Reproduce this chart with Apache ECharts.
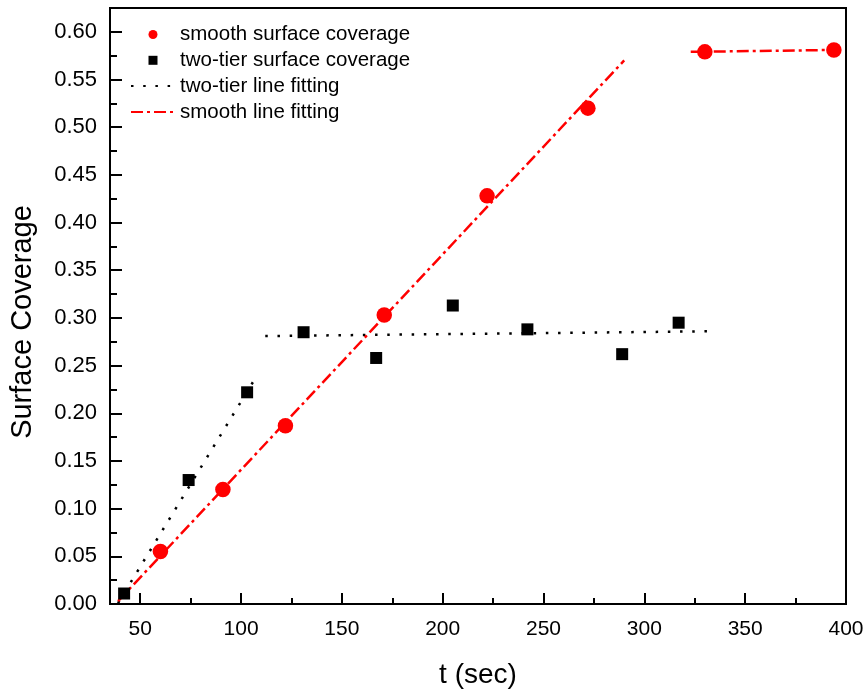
<!DOCTYPE html>
<html>
<head>
<meta charset="utf-8">
<script src="https://cdn.jsdelivr.net/npm/echarts@6/dist/echarts.min.js"></script>
<style>
  html, body { margin: 0; padding: 0; background: #fff; }
  #chart { width: 868px; height: 690px; }
</style>
</head>
<body>
<div id="chart"></div>
<script>
// Measured coverage: smooth surface
const tSmooth   = [60, 91, 122, 171, 222, 272, 330, 394];
const covSmooth = [0.055, 0.120, 0.187, 0.303, 0.428, 0.520, 0.579, 0.581];

// Measured coverage: two-tier surface
const tTwoTier   = [42, 74, 103, 131, 167, 205, 242, 289, 317];
const covTwoTier = [0.011, 0.130, 0.222, 0.285, 0.258, 0.313, 0.288, 0.262, 0.295];

// Linear fits (segment end points)
const smoothFitT1 = [39, 290];
const smoothFitC1 = [0.003, 0.570];
const smoothFitT2 = [323, 394];
const smoothFitC2 = [0.579, 0.581];
const twoFitT1 = [39, 108];
const twoFitC1 = [0.001, 0.240];
const twoFitT2 = [112, 334];
const twoFitC2 = [0.281, 0.286];

// Axis ticks
const xMajor = [50, 100, 150, 200, 250, 300, 350, 400];
const xMinor = [75, 125, 175, 225, 275, 325, 375];
const yMajor = [0, 0.05, 0.10, 0.15, 0.20, 0.25, 0.30, 0.35, 0.40, 0.45, 0.50, 0.55, 0.60];
const yMinor = [0.025, 0.075, 0.125, 0.175, 0.225, 0.275, 0.325, 0.375, 0.425, 0.475, 0.525, 0.575];

const legendNames = ['smooth surface coverage', 'two-tier surface coverage', 'two-tier line fitting', 'smooth line fitting'];

const pairs = (xs, ys) => xs.map((x, i) => [x, ys[i]]);

const FONT = 'Liberation Sans, Arial, sans-serif';
const RED = '#ff0000';
const DASHDOT = [12, 4, 3, 4];
const DOTTED = [2.5, 9.7];

const chart = echarts.init(document.getElementById('chart'), null, { renderer: 'canvas' });

const baseX = { type: 'value', min: 35, max: 400 };
const baseY = { type: 'value', min: 0, max: 0.625 };

chart.setOption({
  animation: false,
  backgroundColor: '#fff',
  textStyle: { fontFamily: FONT },
  grid: {
    left: 110, top: 8, right: 22, bottom: 86,
    outerBoundsMode: 'none', containLabel: false,
    show: true, borderColor: '#000', borderWidth: 2, backgroundColor: 'transparent'
  },
  legend: {
    orient: 'vertical',
    left: 125, top: 19,
    itemWidth: 44, itemHeight: 9, itemGap: 4.8,
    symbolKeepAspect: true,
    textStyle: { fontFamily: FONT, fontSize: 20.5, color: '#000', lineHeight: 20 },
    data: [
      { name: legendNames[0], icon: 'circle' },
      { name: legendNames[1], icon: 'path://M0,0L10,0L10,10L0,10Z' },
      { name: legendNames[2], itemStyle: { opacity: 0 } },
      { name: legendNames[3], itemStyle: { opacity: 0 } }
    ]
  },
  xAxis: [
    Object.assign({}, baseX, {
      name: 't (sec)', nameLocation: 'middle', nameGap: 57,
      nameTextStyle: { fontFamily: FONT, fontSize: 28, color: '#000' },
      axisLine: { show: true, lineStyle: { color: '#000', width: 2 } },
      axisTick: { show: true, inside: true, length: 11, customValues: xMajor, lineStyle: { color: '#000', width: 2 } },
      axisLabel: { show: true, customValues: xMajor, margin: 15, fontFamily: FONT, fontSize: 21, color: '#000' },
      splitLine: { show: false }
    }),
    Object.assign({}, baseX, {
      position: 'bottom',
      axisLine: { show: false },
      axisTick: { show: true, inside: true, length: 6, customValues: xMinor, lineStyle: { color: '#000', width: 2 } },
      axisLabel: { show: false, customValues: xMinor },
      splitLine: { show: false }
    })
  ],
  yAxis: [
    Object.assign({}, baseY, {
      name: 'Surface Coverage', nameLocation: 'middle', nameGap: 73, nameRotate: 90,
      nameTextStyle: { fontFamily: FONT, fontSize: 29, color: '#000', padding: [0, 32, 0, 0] },
      axisLine: { show: true, lineStyle: { color: '#000', width: 2 } },
      axisTick: { show: true, inside: true, length: 12, customValues: yMajor, lineStyle: { color: '#000', width: 2 } },
      axisLabel: { show: true, customValues: yMajor, margin: 13, fontFamily: FONT, fontSize: 22, color: '#000',
                   formatter: v => v.toFixed(2) },
      splitLine: { show: false }
    }),
    Object.assign({}, baseY, {
      position: 'left',
      axisLine: { show: false },
      axisTick: { show: true, inside: true, length: 7, customValues: yMinor, lineStyle: { color: '#000', width: 2 } },
      axisLabel: { show: false, customValues: yMinor },
      splitLine: { show: false }
    })
  ],
  series: [
    {
      name: legendNames[2], type: 'line', symbol: 'none', z: 2,
      data: pairs(twoFitT1, twoFitC1),
      lineStyle: { color: '#000', width: 2.5, type: DOTTED }, itemStyle: { color: '#000' }
    },
    {
      name: legendNames[2], type: 'line', symbol: 'none', z: 2,
      data: pairs(twoFitT2, twoFitC2),
      lineStyle: { color: '#000', width: 2.5, type: DOTTED }, itemStyle: { color: '#000' }
    },
    {
      name: legendNames[3], type: 'line', symbol: 'none', z: 2,
      data: pairs(smoothFitT1, smoothFitC1),
      lineStyle: { color: RED, width: 2.5, type: DASHDOT }, itemStyle: { color: RED }
    },
    {
      name: legendNames[3], type: 'line', symbol: 'none', z: 2,
      data: pairs(smoothFitT2, smoothFitC2),
      lineStyle: { color: RED, width: 2.5, type: DASHDOT }, itemStyle: { color: RED }
    },
    {
      name: legendNames[1], type: 'scatter', symbol: 'rect', symbolSize: 12, z: 3,
      data: pairs(tTwoTier, covTwoTier),
      itemStyle: { color: '#000', opacity: 1 }
    },
    {
      name: legendNames[0], type: 'scatter', symbol: 'circle', symbolSize: 15.5, z: 4,
      data: pairs(tSmooth, covSmooth),
      itemStyle: { color: RED, opacity: 1 }
    }
  ]
});
</script>
</body>
</html>
